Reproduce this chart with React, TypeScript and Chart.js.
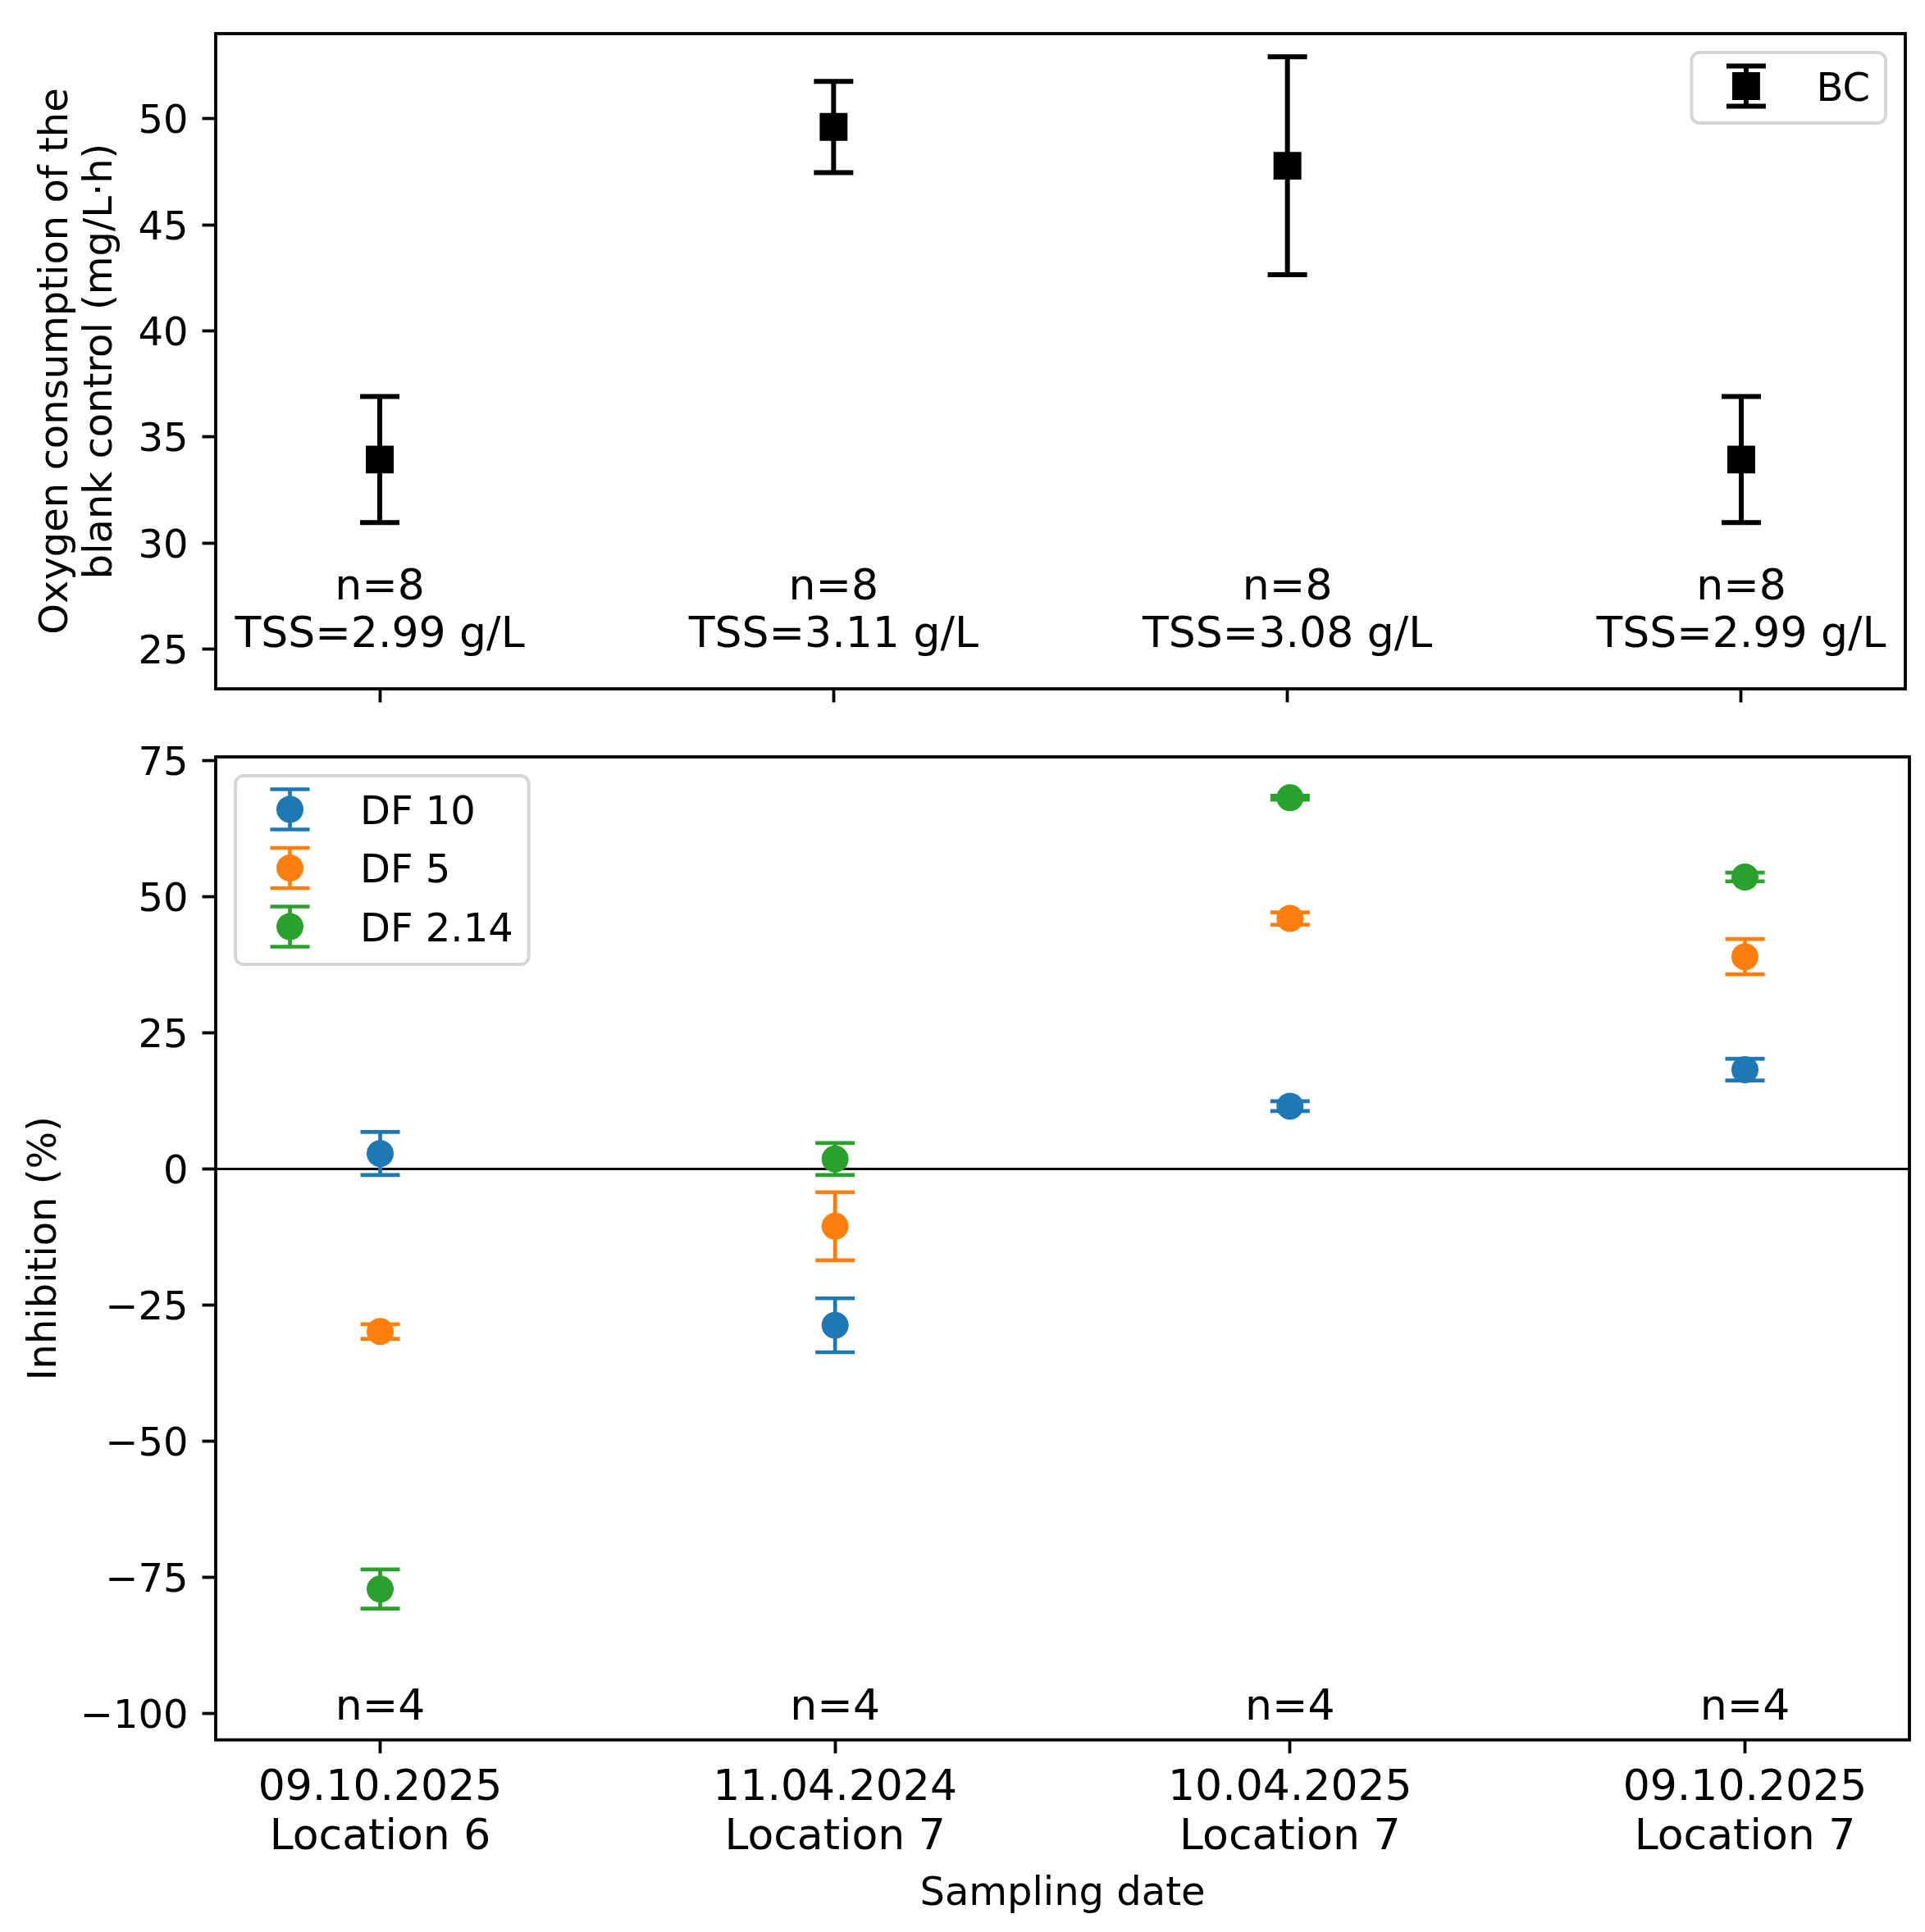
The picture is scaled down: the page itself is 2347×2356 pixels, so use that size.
import { useEffect, useRef } from "react";
import { Chart, registerables } from "chart.js";

Chart.register(...registerables);

const W = 2347;
const H = 2356;
const FONT = "'DejaVu Sans'";

const sampleLabels = [
  ["09.10.2025", "Location 6"],
  ["11.04.2024", "Location 7"],
  ["10.04.2025", "Location 7"],
  ["09.10.2025", "Location 7"],
];
const positions = [0, 1, 2, 3];

// blank control
const bcMean = [33.94, 49.62, 47.79, 33.94];
const bcErr = [2.97, 2.15, 5.14, 2.97];
const bcN = [8, 8, 8, 8];
const tss = [2.99, 3.11, 3.08, 2.99];

// inhibition per dilution factor
const df10Mean = [2.9, -28.65, 11.6, 18.3];
const df10Err = [3.96, 4.95, 0.9, 2.0];
const df5Mean = [-29.79, -10.45, 46.06, 39.05];
const df5Err = [1.35, 6.25, 1.13, 3.24];
const df214Mean = [-77.1, 1.89, 68.25, 53.69];
const df214Err = [3.6, 2.94, 0.35, 0.8];
const inhN = [4, 4, 4, 4];

const topTicks = [25, 30, 35, 40, 45, 50];
const bottomTicks = [-100, -75, -50, -25, 0, 25, 50, 75];

const CAP = 24;
const TICK_LEN = 16.5;
const LINE_W = 3.8;

const fmtTick = (v: number) => (v < 0 ? "\u2212" + Math.abs(v) : String(v));

const errorBars = {
  id: "errorBars",
  beforeDatasetsDraw(chart: any) {
    const { ctx } = chart;
    const y = chart.scales.y;
    chart.data.datasets.forEach((ds: any, di: number) => {
      const meta = chart.getDatasetMeta(di);
      ctx.save();
      ctx.strokeStyle = ds.backgroundColor;
      ctx.lineWidth = ds.errWidth;
      meta.data.forEach((el: any, i: number) => {
        const v = ds.data[i].y;
        const y1 = y.getPixelForValue(v + ds.errors[i]);
        const y2 = y.getPixelForValue(v - ds.errors[i]);
        ctx.beginPath();
        ctx.moveTo(el.x, y1);
        ctx.lineTo(el.x, y2);
        ctx.moveTo(el.x - CAP, y1);
        ctx.lineTo(el.x + CAP, y1);
        ctx.moveTo(el.x - CAP, y2);
        ctx.lineTo(el.x + CAP, y2);
        ctx.stroke();
      });
      ctx.restore();
    });
  },
};

const frame = {
  id: "frame",
  afterDatasetsDraw(chart: any) {
    const { ctx, chartArea: a } = chart;
    ctx.save();
    ctx.strokeStyle = "#000";
    ctx.lineWidth = LINE_W;
    ctx.strokeRect(a.left, a.top, a.right - a.left, a.bottom - a.top);
    ctx.restore();
  },
};

const makeNotes = (lines: string[][], baseline: number, gap: number) => ({
  id: "notes",
  afterDatasetsDraw(chart: any) {
    const { ctx } = chart;
    const x = chart.scales.x;
    const base = chart.scales.y.getPixelForValue(baseline);
    ctx.save();
    ctx.font = `52px ${FONT}`;
    ctx.fillStyle = "#000";
    ctx.textAlign = "center";
    ctx.textBaseline = "alphabetic";
    lines.forEach((ls, i) => {
      const px = x.getPixelForValue(positions[i]);
      ls.forEach((t, j) => ctx.fillText(t, px, base - (ls.length - 1 - j) * gap));
    });
    ctx.restore();
  },
});

const makeLegend = (side: "left" | "right") => ({
  id: "boxLegend",
  afterDraw(chart: any) {
    const { ctx, chartArea: a } = chart;
    const sets = chart.data.datasets;
    ctx.save();
    ctx.font = `48px ${FONT}`;
    const textW = Math.max(...sets.map((d: any) => ctx.measureText(d.label).width));
    const w = 19 + 95 + 38 + textW + 19;
    const h = 38 + 48 * sets.length + 24 * (sets.length - 1);
    const left = side === "right" ? a.right - 24 - w : a.left + 24;
    const top = a.top + 23;
    ctx.beginPath();
    ctx.roundRect(left, top, w, h, 10);
    ctx.fillStyle = "rgba(255,255,255,0.8)";
    ctx.fill();
    ctx.strokeStyle = "rgb(214,214,214)";
    ctx.lineWidth = 4;
    ctx.stroke();
    sets.forEach((d: any, i: number) => {
      const cy = top + 41 + i * 71.5;
      const cx = left + 19 + 47.5;
      ctx.strokeStyle = d.backgroundColor;
      ctx.lineWidth = d.errWidth;
      ctx.beginPath();
      ctx.moveTo(cx, cy - 24.5);
      ctx.lineTo(cx, cy + 24.5);
      ctx.moveTo(cx - CAP, cy - 24.5);
      ctx.lineTo(cx + CAP, cy - 24.5);
      ctx.moveTo(cx - CAP, cy + 24.5);
      ctx.lineTo(cx + CAP, cy + 24.5);
      ctx.stroke();
      ctx.fillStyle = d.backgroundColor;
      if (d.pointStyle === "rect") {
        const s = d.pointRadius * Math.SQRT1_2;
        ctx.fillRect(cx - s, cy - s, 2 * s, 2 * s);
      } else {
        ctx.beginPath();
        ctx.arc(cx, cy, d.pointRadius, 0, Math.PI * 2);
        ctx.fill();
      }
      ctx.fillStyle = "#000";
      ctx.textAlign = "left";
      ctx.textBaseline = "alphabetic";
      ctx.fillText(d.label, left + 152, cy + 17.5);
    });
    ctx.restore();
  },
});

const tickGrid = {
  drawOnChartArea: false,
  drawTicks: true,
  tickLength: TICK_LEN,
  tickWidth: LINE_W,
  tickColor: "#000",
};

const App = () => {
  const topRef = useRef<HTMLCanvasElement>(null);
  const bottomRef = useRef<HTMLCanvasElement>(null);

  useEffect(() => {
    Chart.defaults.font.family = FONT;
    Chart.defaults.color = "#000";
    const charts: Chart[] = [];

    const common = {
      responsive: false,
      devicePixelRatio: 1,
      animation: false as const,
      events: [],
    };

    if (topRef.current) {
      charts.push(
        new Chart(topRef.current, {
          type: "scatter",
          data: {
            datasets: [
              {
                label: "BC",
                data: positions.map((x, i) => ({ x, y: bcMean[i] })),
                errors: bcErr,
                errWidth: 6,
                backgroundColor: "#000000",
                pointStyle: "rect",
                pointRadius: 24,
                pointBorderWidth: 0,
              } as any,
            ],
          },
          options: {
            ...common,
            layout: { padding: { top: 41, left: 0, right: 19, bottom: H - 840 - 17 } },
            plugins: { legend: { display: false }, tooltip: { enabled: false } },
            scales: {
              x: {
                type: "linear",
                min: -0.3615,
                max: 3.3615,
                afterBuildTicks: (s: any) => {
                  s.ticks = positions.map((value) => ({ value }));
                },
                afterFit: (s: any) => {
                  s.height = 17;
                  s.paddingLeft = 0;
                  s.paddingRight = 0;
                },
                ticks: { autoSkip: false, callback: () => "" },
                grid: tickGrid,
                border: { display: false },
              },
              y: {
                type: "linear",
                min: 23.13,
                max: 54.02,
                afterBuildTicks: (s: any) => {
                  s.ticks = topTicks.map((value) => ({ value }));
                },
                afterFit: (s: any) => {
                  s.width = 263;
                  s.paddingTop = 0;
                  s.paddingBottom = 0;
                },
                ticks: {
                  font: { size: 48 },
                  padding: 17,
                  labelOffset: 5,
                  callback: (v: any) => fmtTick(Number(v)),
                },
                grid: tickGrid,
                border: { display: false },
                title: {
                  display: true,
                  text: ["Oxygen consumption of the", "blank control (mg/L\u00b7h)"],
                  font: { size: 48, lineHeight: 1.131 },
                  padding: { top: 42.5, bottom: 0 },
                },
              },
            },
          },
          plugins: [
            errorBars,
            frame,
            makeNotes(
              positions.map((_, i) => [`n=${bcN[i]}`, `TSS=${tss[i].toFixed(2)} g/L`]),
              25.09,
              58.6
            ),
            makeLegend("right"),
          ],
        } as any)
      );
    }

    if (bottomRef.current) {
      const series = [
        { label: "DF 10", mean: df10Mean, err: df10Err, color: "#1f77b4" },
        { label: "DF 5", mean: df5Mean, err: df5Err, color: "#ff7f0e" },
        { label: "DF 2.14", mean: df214Mean, err: df214Err, color: "#2ca02c" },
      ];
      charts.push(
        new Chart(bottomRef.current, {
          type: "scatter",
          data: {
            datasets: series.map((s) => ({
              label: s.label,
              data: positions.map((x, i) => ({ x, y: s.mean[i] })),
              errors: s.err,
              errWidth: 4.7,
              backgroundColor: s.color,
              pointStyle: "circle",
              pointRadius: 16.5,
              pointBorderWidth: 0,
            })),
          },
          options: {
            ...common,
            layout: { padding: { top: 923, left: 0, right: 19, bottom: 0 } },
            plugins: { legend: { display: false }, tooltip: { enabled: false } },
            scales: {
              x: {
                type: "linear",
                min: -0.3615,
                max: 3.3615,
                afterBuildTicks: (s: any) => {
                  s.ticks = positions.map((value) => ({ value }));
                },
                afterFit: (s: any) => {
                  s.height = H - 2121.7;
                  s.paddingLeft = 0;
                  s.paddingRight = 0;
                },
                ticks: {
                  autoSkip: false,
                  maxRotation: 0,
                  font: { size: 52, lineHeight: 60 / 52 },
                  padding: 13.4,
                  callback: (v: any) => sampleLabels[Math.round(Number(v))],
                },
                grid: tickGrid,
                border: { display: false },
                title: {
                  display: true,
                  text: "Sampling date",
                  font: { size: 48, lineHeight: 1.2 },
                  padding: { top: 0, bottom: 16.6 },
                },
              },
              y: {
                type: "linear",
                min: -104.8,
                max: 75.75,
                afterBuildTicks: (s: any) => {
                  s.ticks = bottomTicks.map((value) => ({ value }));
                },
                afterFit: (s: any) => {
                  s.width = 263;
                  s.paddingTop = 0;
                  s.paddingBottom = 0;
                },
                ticks: {
                  font: { size: 48 },
                  padding: 17,
                  labelOffset: 5,
                  callback: (v: any) => fmtTick(Number(v)),
                },
                grid: {
                  drawOnChartArea: true,
                  drawTicks: true,
                  tickLength: TICK_LEN,
                  tickWidth: LINE_W,
                  tickColor: "#000",
                  color: (c: any) => (c.tick && c.tick.value === 0 ? "#000" : "rgba(0,0,0,0)"),
                  lineWidth: 3,
                },
                border: { display: false },
                title: {
                  display: true,
                  text: "Inhibition (%)",
                  font: { size: 48, lineHeight: 1.2 },
                  padding: { top: 26.9, bottom: 0 },
                },
              },
            },
          },
          plugins: [
            errorBars,
            frame,
            makeNotes(positions.map((_, i) => [`n=${inhN[i]}`]), -101.1, 58.6),
            makeLegend("left"),
          ],
        } as any)
      );
    }

    return () => {
      charts.forEach((c) => c.destroy());
    };
  }, []);

  const canvasStyle = { position: "absolute" as const, left: 0, top: 0, display: "block" };

  return (
    <div
      style={{
        position: "absolute",
        left: 0,
        top: 0,
        width: W,
        height: H,
        overflow: "hidden",
        background: "#fff",
      }}
    >
      <canvas ref={bottomRef} width={W} height={H} style={canvasStyle} />
      <canvas ref={topRef} width={W} height={H} style={canvasStyle} />
    </div>
  );
};

export default App;
